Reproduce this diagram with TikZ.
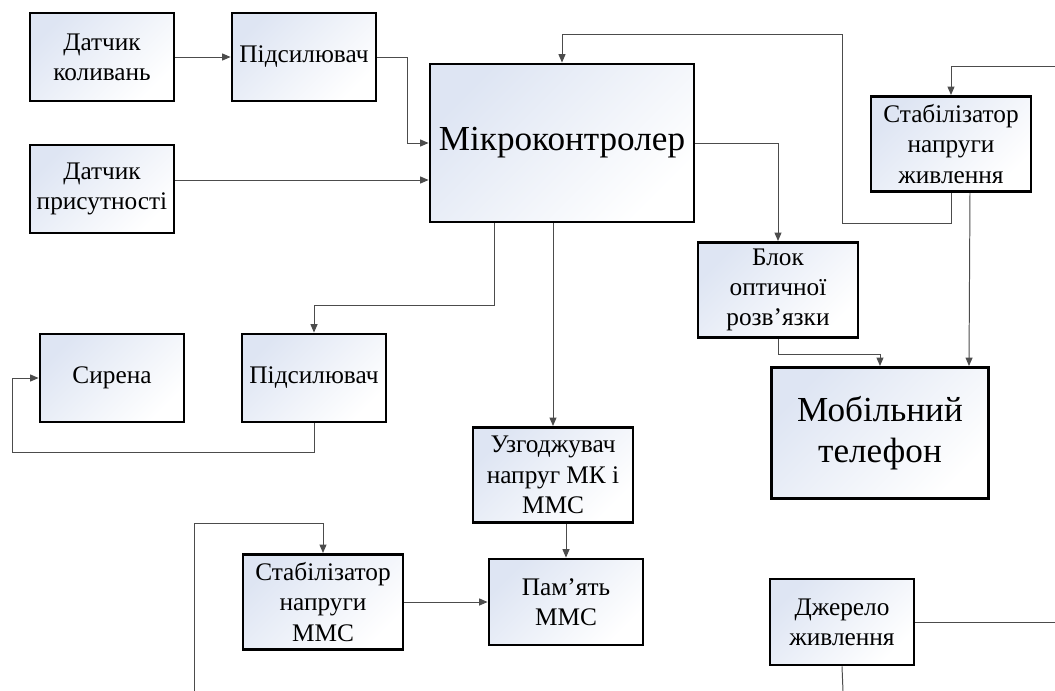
\documentclass[tikz,border=0pt]{standalone}
\usepackage{fontspec}
\setmainfont{Liberation Serif}
\usetikzlibrary{calc,arrows.meta}
\definecolor{boxtint}{RGB}{222,229,243}

\begin{document}
\begin{tikzpicture}[x=0.025cm,y=-0.025cm,
		blk/.style={draw,line width=2pt,top color=boxtint,bottom color=white,shading angle=45,
			inner sep=0pt,align=center,minimum width=3.6cm,minimum height=2.2cm,
			font=\fontsize{18}{21.5}\selectfont},
		wblk/.style={blk,minimum width=4cm,minimum height=2.38cm},
		bigblk/.style={blk,font=\fontsize{25}{29}\selectfont},
		wire/.style={draw=black!70,line width=0.7pt},
		arr/.style={wire,-{Triangle[length=6pt,width=5pt]}}]
	\useasboundingbox (0,0) rectangle (1055,691);
	%
	\node[blk] (dk) at (102,57) {Датчик\\коливань};
	\node[blk] (pid1) at (304,57) {Підсилювач};
	\node[blk] (dp) at (102,189) {Датчик\\присутності};
	\node[bigblk,minimum width=6.6cm,minimum height=3.95cm] (mc) at (562,143) {Мікроконтролер};
	\node[wblk] (stz) at (951,144) {Стабілізатор\\напруги\\живлення};
	\node[wblk] (bo) at (778,290) {Блок\\оптичної\\розв’язки};
	\node[bigblk,minimum width=5.42cm,minimum height=3.28cm] (mob) at (880,433) {Мобільний\\телефон};
	\node[blk,minimum height=2.15cm] (dzh) at (842,622) {Джерело\\живлення};
	\node[blk] (sir) at (112,378) {Сирена};
	\node[blk] (pid2) at (314,378) {Підсилювач};
	\node[wblk] (uzg) at (553,475) {Узгоджувач\\напруг МК і\\ММС};
	\node[blk,minimum width=3.85cm,minimum height=2.15cm] (pam) at (566,602) {Пам’ять\\ММС};
	\node[wblk] (stm) at (323,602) {Стабілізатор\\напруги\\ММС};
	%
	\coordinate (inR) at (1055,66);
	\coordinate (outR) at (1055,622);
	\coordinate (outB) at (843,691);
	\coordinate (inB) at (194,691);
	\coordinate (sirloop) at (12,452);
	%
	\draw[arr] (dk) -- (pid1);
	\draw[arr] (pid1.east) -- ++(30,0) |- (mc.west);
	\draw[arr] ($(dp.east)+(0,-9)$) -- ($(dp.east -| mc.west)+(0,-9)$);
	\draw[arr] (stz.south) -- ++(0,30) -| (842,34) -| (mc.north);
	\draw[arr] (inR) -| (stz.north);
	\draw[arr] ($(stz.south)+(19,0)$) -- ($(mob.north)+(89,0)$);
	\draw[arr] (mc.east) -| (bo.north);
	\draw[arr] (bo.south) -- ++(0,15) -| (mob.north);
	\draw[arr] ($(mc.south)+(-68,0)$) -- ++(0,82) -| (pid2.north);
	\draw[arr] (mc.south -| uzg.north) -- (uzg.north);
	\draw[arr] (pam.north |- uzg.south) -- (pam.north);
	\draw[arr] (stm) -- (pam);
	\draw[arr] (pid2.south) |- (sirloop) |- (sir.west);
	\draw[arr] (inB) |- ($(stm.north)+(0,-29)$) -- (stm.north);
	\draw[wire] (dzh.east) -- (outR);
	\draw[wire] (dzh.south) -- (outB);
\end{tikzpicture}
\end{document}
